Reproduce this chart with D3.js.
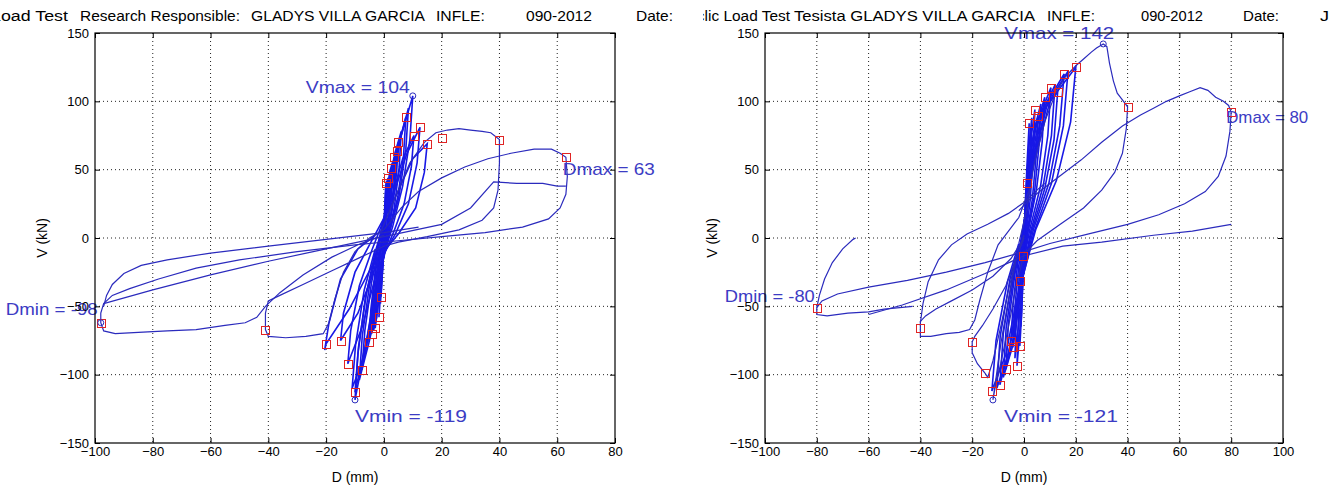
<!DOCTYPE html>
<html>
<head>
<meta charset="utf-8">
<script src="https://cdn.jsdelivr.net/npm/d3@7"></script>
<style>
  body { margin: 0; background: #fff; }
  text { font-family: "Liberation Sans", Arial, sans-serif; }
</style>
</head>
<body>
<svg id="chart" width="1339" height="489"></svg>
<script>
// ---- data (D in mm, V in kN) ----
const yTicks = [-150, -100, -50, 0, 50, 100, 150];
const xTicksLeft = [-100, -80, -60, -40, -20, 0, 20, 40, 60, 80];
const xTicksRight = [-100, -80, -60, -40, -20, 0, 20, 40, 60, 80, 100];

const headerLeft = ["Load Test", "Research Responsible:", "GLADYS VILLA GARCIA", "INFLE:", "090-2012", "Date:"];
const headerRight = ["Cyclic Load Test", "Tesista GLADYS VILLA GARCIA", "INFLE:", "090-2012", "Date:", "J"];

// small cycles, left specimen
const leftCore = [
  [[0,0],[0.2,18],[0.5,33],[0.7,40],[0.6,28],[0.3,10],[0,-5],[-0.5,-25],[-1,-43],[-0.8,-28],[-0.4,-10],[0,2]],
  [[0,1],[0.4,25],[0.9,42],[1.2,30],[0.6,8],[-0.3,-18],[-1.2,-48],[-1,-30],[-0.4,-6],[0,0]],
  [[0,2],[0.5,24],[1,37],[1.4,44],[1.2,30],[0.7,12],[0.1,-4],[-0.7,-28],[-1.3,-45],[-1.7,-58],[-1.4,-38],[-0.8,-15],[-0.2,0]],
  [[-0.2,0],[0.6,22],[1.5,40],[2.4,51],[2.1,35],[1.4,15],[0.4,-3],[-0.8,-25],[-2,-48],[-3,-66],[-2.6,-45],[-1.6,-20],[-0.5,-2]],
  [[0,0],[1,30],[2,48],[2.9,55],[2.5,35],[1.5,12],[0.2,-6],[-1.2,-35],[-2.5,-58],[-3.6,-68],[-3,-45],[-1.8,-18],[-0.5,0]],
  [[-0.5,-2],[0.8,20],[2.2,42],[3.5,59],[3,40],[2,18],[0.6,-2],[-1,-25],[-2.6,-50],[-4.2,-70],[-3.6,-48],[-2.3,-22],[-0.8,-3]],
  [[-0.5,0],[1.2,32],[2.8,52],[4,60],[3.5,40],[2.3,15],[0.5,-4],[-1.5,-35],[-3.2,-58],[-4.8,-73],[-4,-48],[-2.6,-20],[-0.8,-2]],
  [[-0.8,-3],[1,22],[2.8,45],[4.5,64],[3.9,42],[2.6,18],[0.8,0],[-1.2,-24],[-3.2,-52],[-5.2,-76],[-4.5,-52],[-3,-24],[-1,-3]],
  [[-1,-3],[1.2,25],[3.2,50],[5,70],[4.4,48],[3,22],[1,2],[-1.5,-25],[-4.5,-60],[-7.6,-96.5],[-6.6,-68],[-4.3,-33],[-1.6,-5]],
  [[-1,-2],[1.6,35],[3.8,62],[6,78],[5.3,52],[3.6,22],[1,-2],[-2,-35],[-5,-75],[-8.5,-104],[-7.5,-72],[-5,-35],[-2,-6]],
  [[-1.6,-5],[1.5,28],[4.5,62],[7.6,88.5],[6.8,60],[4.8,30],[2,5],[-1.8,-25],[-5.5,-70],[-10,-113],[-8.8,-80],[-6,-40],[-2.4,-8]],
  [[-2,-6],[2.4,40],[5.5,72],[8.5,95],[7.6,65],[5.2,30],[1.8,3],[-2.5,-38],[-6.5,-85],[-11,-110],[-9.8,-78],[-6.8,-38],[-3,-8]],
  [[-2.4,-8],[2,30],[6,75],[10,104],[9,72],[6.5,38],[3,8],[-2,-25],[-6,-75],[-10,-118.5],[-9,-85],[-6.5,-45],[-3,-10]],
  [[-3,-10],[2.5,28],[6.5,58],[10.4,75],[9.5,52],[7,25],[3.5,5],[-2.5,-25],[-7.5,-65],[-12.5,-92],[-11.5,-68],[-8.5,-35],[-4,-8]],
  [[-4,-8],[3,30],[8,62],[12.5,81],[11.5,55],[8.5,25],[4,3],[-3,-22],[-9,-55],[-15,-75],[-14,-55],[-10,-25],[-5,-5]],
  [[-5,-5],[4,30],[10,58],[15,69],[14,48],[11,22],[5,3],[-4,-20],[-12,-52],[-20,-77.5],[-20.5,-82],[-19,-62],[-15,-30],[-9,-8],[-3,2]]
];

// large cycles, left specimen
const leftLoop40 = [[-3,2],[-1,5],[4,30],[9,55],[14,70],[18,77],[22,79],[26,80],[30,79],[34,78],[37,77],[40,72],[40,55],[39.5,35],[38,22],[34,13],[26,6],[15,1],[5,-3],[0,-6],[-8,-14],[-18,-24],[-28,-34],[-36,-42],[-40,-46],[-41,-55],[-41,-67],[-40,-72],[-34,-73],[-27,-72],[-21,-70],[-19,-62],[-17,-45],[-14,-25],[-10,-10],[-5,0],[0,6]];
const leftLoop63 = [[0,6],[6,22],[12,34],[20,44],[28,52],[36,58],[44,62],[52,65],[58,65],[61,62],[63,59],[63.5,45],[63,32],[61,22],[57,14],[48,8],[35,4],[20,1],[5,-2],[-10,-5],[-30,-10],[-50,-16],[-65,-22],[-78,-30],[-88,-37],[-94,-42],[-97,-48],[-98,-55],[-98,-62],[-97,-68],[-93,-70],[-85,-69],[-75,-68],[-65,-67],[-55,-64],[-48,-62],[-44,-58],[-41,-50],[-36,-40],[-28,-27],[-18,-14],[-8,-4],[0,2]];
const leftReload = [[-97,-50],[-96,-42],[-94,-34],[-90,-26],[-84,-20],[-75,-16],[-60,-11],[-40,-6],[-20,-1],[0,4],[12,8]];
const leftDiagonal = [[-97,-48],[-80,-38],[-60,-27],[-40,-17],[-20,-8],[0,1],[20,10],[30,22],[38,41],[46,40],[55,40],[60,38],[63,38]];

const leftSquares = [[0.7,40],[1.4,44],[2.4,51],[3.5,59],[4.5,64],[5,70],[7.6,88.5],[10.4,75],[12.5,81],[15,69],[20,73],[40,72],[63,59],
  [-1,-43],[-1.7,-58],[-3,-66],[-4.2,-70],[-5.2,-76],[-7.6,-96.5],[-10,-113],[-12.5,-92],[-15,-75],[-20,-77.5],[-41,-67],[-98,-62]];
const leftCircles = [[10,104],[-10,-118.5],[-98,-62]];

// small cycles, right specimen
const rightCore = [
  [[0,0],[0.4,20],[0.8,32],[1.2,40],[1,25],[0.6,8],[0.2,-3],[-0.1,-8],[-0.4,-13],[-0.3,-6],[0,0]],
  [[0,0],[0.6,30],[1.2,55],[2,84],[1.7,55],[1.1,25],[0.4,3],[-0.5,-15],[-1.5,-31.5],[-1.2,-18],[-0.5,-4],[0,0]],
  [[0,0],[0.8,35],[1.8,65],[3,88],[2.6,58],[1.7,25],[0.6,2],[-0.4,-25],[-0.8,-50],[-1.2,-65],[-1,-40],[-0.4,-12]],
  [[0,0],[1,35],[2.5,70],[4.2,94],[3.6,62],[2.4,28],[0.8,2],[-0.4,-30],[-1,-58],[-1.6,-79],[-1.3,-50],[-0.6,-18],[0,-2]],
  [[0,-2],[1.2,38],[3,70],[5.4,89],[4.7,60],[3.2,28],[1,2],[-0.6,-35],[-1.6,-68],[-2.7,-93.5],[-2.2,-60],[-1.2,-25],[-0.2,-3]],
  [[0,-1],[1.5,40],[3.8,78],[6.5,98],[5.7,66],[3.9,30],[1.3,3],[-0.8,-32],[-2,-62],[-3.5,-88],[-2.9,-56],[-1.6,-22],[-0.3,-2]],
  [[-0.2,-3],[1.6,40],[4.5,80],[8,103],[7,70],[4.8,35],[1.6,5],[-1,-30],[-2.6,-58],[-4.3,-80],[-3.6,-52],[-2,-20],[-0.5,-2]],
  [[-0.5,-2],[2,45],[5.8,88],[10.4,110],[9.2,75],[6.4,38],[2.2,6],[-1.2,-28],[-3,-55],[-5,-75],[-4.2,-48],[-2.4,-18],[-0.6,0]],
  [[-0.3,-2],[2.6,48],[7,92],[12,112],[10.6,75],[7.4,38],[2.6,5],[-1.5,-38],[-4.2,-78],[-8,-102],[-6.9,-66],[-4,-28],[-1,-3]],
  [[-0.6,0],[2.4,48],[7,92],[13,107],[11.6,72],[8,36],[3,5],[-1.5,-35],[-4,-72],[-7,-96],[-6,-62],[-3.4,-25],[-1,-2]],
  [[-1,-2],[3,50],[8.5,98],[15.5,120],[13.8,82],[9.6,40],[3.6,6],[-2,-40],[-5.5,-80],[-9.3,-107.5],[-8,-70],[-4.6,-30],[-1.4,-4]],
  [[-1,-3],[3.2,52],[9,98],[17,122],[15.2,82],[10.6,40],[4,5],[-2.2,-42],[-6,-85],[-10.5,-110],[-9.2,-72],[-5.4,-30],[-1.6,-4]],
  [[-1.4,-4],[3.5,52],[10,100],[20,125],[18,85],[12.5,42],[4.5,6],[-2.5,-42],[-7,-85],[-12.4,-112],[-10.8,-75],[-6.4,-32],[-2,-4]]
];

// large cycles, right specimen
const rightLoop30 = [[-2,-4],[1,20],[4,55],[8,85],[12,105],[16,118],[20,126],[23,131],[26,136],[28,139],[30.6,142],[32,140],[33,128],[34.5,115],[36,106],[38,101],[40,96],[39.5,80],[38,62],[35,48],[30,35],[23,22],[14,10],[5,-2],[0,-12],[-3,-35],[-6,-65],[-9,-92],[-11,-108],[-12,-118.5],[-11,-105],[-9,-78],[-6,-45],[-3,-15],[0,2]];
const rightLoopNeg = [[0,2],[-3,-15],[-7,-35],[-12,-52],[-16,-64],[-19,-72],[-20,-76],[-20,-84],[-18,-92],[-15,-99],[-14,-102],[-12,-90],[-9,-65],[-6,-38],[-3,-15],[0,0]];
const rightLoop40 = [[0,0],[-5,-15],[-12,-28],[-20,-38],[-28,-46],[-34,-52],[-38,-57],[-40,-61],[-40,-66],[-40,-72],[-36,-72],[-30,-70],[-25,-69],[-21,-67],[-19,-60],[-17,-45],[-14,-25],[-10,-5],[-6,5],[-2,15],[0,25],[3,40]];
const rightUpperLeft = [[-40,-62],[-39,-48],[-37,-32],[-33,-16],[-28,-5],[-22,3],[-14,10],[-6,18],[0,26],[5,35],[8,40]];
const rightLoopBig = [[-2,20],[2,28],[8,37],[15,47],[22,57],[30,70],[38,82],[45,90],[50,95],[55,100],[60,104],[64,107],[68,110],[71,108],[74,103],[77,100],[79,97],[80,92],[79.5,78],[78,60],[75,45],[70,34],[62,25],[52,17],[40,10],[25,3],[10,-4],[0,-10],[-15,-18],[-30,-25],[-45,-31],[-60,-36],[-72,-41],[-78,-46],[-80,-51],[-80,-56],[-76,-57],[-68,-55],[-60,-54],[-54,-52],[-48,-51],[-43,-50]];
const rightEnd = [[-80,-51],[-79,-42],[-77,-30],[-74,-18],[-70,-8],[-66,-1],[-65,0]];
const rightDiagonal = [[-60,-56],[-47,-49],[-30,-38],[-15,-26],[0,-13],[15,-6],[30,-3],[50,2],[65,5],[80,10]];

const rightSquares = [[1.2,40],[2,84],[4.2,94],[5.4,89],[8,103],[10.4,110],[13,107],[15.5,120],[20,125],[40,96],[80,92],
  [-0.4,-13],[-1.5,-31.5],[-1.6,-79],[-2.7,-93.5],[-4.3,-80],[-5,-75],[-7,-96],[-9.3,-107.5],[-12.4,-112],[-15,-99],[-20,-76],[-40,-66],[-80,-51]];
const rightCircles = [[30.6,142],[-12,-118.5]];

// ---- drawing ----
const svg = d3.select("#chart");
const lineBlue = "#2b2bbd";
const labelBlue = "#3c3cc4";

function drawPanel(p) {
  const x = d3.scaleLinear().domain(p.xDomain).range(p.xRange);
  const y = d3.scaleLinear().domain([-150, 150]).range([443, 33]);
  const g = svg.append("g");
  const [x0, x1] = p.xRange;

  // dotted grid
  g.selectAll(".gx").data(p.xTicks.slice(1, -1)).enter().append("line")
    .attr("x1", d => x(d)).attr("x2", d => x(d)).attr("y1", y(150)).attr("y2", y(-150))
    .attr("stroke", "#222").attr("stroke-dasharray", "1,3");
  g.selectAll(".gy").data(yTicks.slice(1, -1)).enter().append("line")
    .attr("y1", d => y(d)).attr("y2", d => y(d)).attr("x1", x0).attr("x2", x1)
    .attr("stroke", "#222").attr("stroke-dasharray", "1,3");

  // curves
  const line = d3.line().x(d => x(d[0])).y(d => y(d[1]));
  g.selectAll(".core").data(p.core).enter().append("path")
    .attr("d", line).attr("fill", "none").attr("stroke", "#1818e6").attr("stroke-width", 1.6);
  g.selectAll(".big").data(p.big).enter().append("path")
    .attr("d", line).attr("fill", "none").attr("stroke", lineBlue).attr("stroke-width", 1.2);

  // markers (snapped to the pixel grid so the red stays crisp)
  g.selectAll(".sq").data(p.squares).enter().append("rect")
    .attr("x", d => Math.round(x(d[0])) - 3.5).attr("y", d => Math.round(y(d[1])) - 3.5)
    .attr("width", 8).attr("height", 8)
    .attr("fill", "none").attr("stroke", "#e02424").attr("stroke-width", 1);
  g.selectAll(".ci").data(p.circles).enter().append("circle")
    .attr("cx", d => x(d[0])).attr("cy", d => y(d[1])).attr("r", 3)
    .attr("fill", "none").attr("stroke", lineBlue).attr("stroke-width", 1);

  // annotations
  p.notes.forEach(n => {
    g.append("text").attr("x", x(n.at[0]) + n.dx).attr("y", y(n.at[1]) + n.dy)
      .attr("font-size", 17).attr("fill", labelBlue)
      .attr("textLength", n.w).attr("lengthAdjust", "spacingAndGlyphs")
      .text(n.text);
  });

  // axes, ticks pointing inward
  const axB = g.append("g").attr("transform", `translate(0,${y(-150)})`)
    .call(d3.axisBottom(x).tickValues(p.xTicks).tickSizeInner(-5).tickSizeOuter(0).tickPadding(4));
  const axT = g.append("g").attr("transform", `translate(0,${y(150)})`)
    .call(d3.axisTop(x).tickValues(p.xTicks).tickSizeInner(-5).tickSizeOuter(0).tickFormat(""));
  const axL = g.append("g").attr("transform", `translate(${x0},0)`)
    .call(d3.axisLeft(y).tickValues(yTicks).tickSizeInner(-5).tickSizeOuter(0).tickPadding(6));
  const axR = g.append("g").attr("transform", `translate(${x1},0)`)
    .call(d3.axisRight(y).tickValues(yTicks).tickSizeInner(-5).tickSizeOuter(0).tickFormat(""));
  [axB, axT, axL, axR].forEach(a => {
    a.select(".domain").remove();
    a.selectAll("line").attr("stroke", "#000");
    a.selectAll("text").attr("font-size", 13).attr("fill", "#000")
      .attr("font-family", "'Liberation Sans', Arial, sans-serif");
  });
  g.append("rect").attr("x", x0).attr("y", y(150)).attr("width", x1 - x0).attr("height", y(-150) - y(150))
    .attr("fill", "none").attr("stroke", "#000").attr("stroke-width", 1.2);

  // axis titles
  g.append("text").attr("x", (x0 + x1) / 2).attr("y", 482).attr("text-anchor", "middle")
    .attr("font-size", 14).text("D (mm)");
  g.append("text").attr("transform", `translate(${x0 - 48},${y(0)}) rotate(-90)`)
    .attr("text-anchor", "middle").attr("font-size", 14).text("V (kN)");
}

drawPanel({
  xDomain: [-100, 80], xRange: [95, 615], xTicks: xTicksLeft,
  core: leftCore, big: [leftLoop40, leftLoop63, leftReload, leftDiagonal],
  squares: leftSquares, circles: leftCircles,
  notes: [
    { text: "Vmax = 104", at: [10, 104], dx: -107, dy: -3, w: 104 },
    { text: "Vmin = -119", at: [-10, -118.5], dx: 0, dy: 22, w: 112 },
    { text: "Dmax = 63", at: [63, 59], dx: -3, dy: 18, w: 92 },
    { text: "Dmin = -98", at: [-98, -62], dx: -95, dy: -8, w: 92 }
  ]
});

drawPanel({
  xDomain: [-100, 100], xRange: [765, 1283], xTicks: xTicksRight,
  core: rightCore, big: [rightLoop30, rightLoopNeg, rightLoop40, rightUpperLeft, rightLoopBig, rightEnd, rightDiagonal],
  squares: rightSquares, circles: rightCircles,
  notes: [
    { text: "Vmax = 142", at: [30.6, 142], dx: -99, dy: -5, w: 110 },
    { text: "Vmin = -121", at: [-12, -118.5], dx: 11, dy: 22, w: 114 },
    { text: "Dmax = 80", at: [80, 92], dx: -5, dy: 11, w: 82 },
    { text: "Dmin = -80", at: [-80, -51], dx: -92, dy: -6, w: 90 }
  ]
});

// header strips above each plot (each image is cropped at its left edge)
const headerLeftX = [[-9, 77], [80, 160], [251, 174], [436, 49], [526, 66], [636, 37]];
const headerRightX = [[678, 112], [794, 241], [1047, 48], [1141, 62], [1243, 36], [1320, 9]];
svg.append("clipPath").attr("id", "clipR").append("rect").attr("x", 703).attr("y", 0).attr("width", 636).attr("height", 30);
const hl = svg.append("g");
headerLeft.forEach((t, i) => {
  hl.append("text").attr("x", headerLeftX[i][0]).attr("y", 21).attr("font-size", 14)
    .attr("textLength", headerLeftX[i][1]).attr("lengthAdjust", "spacingAndGlyphs").text(t);
});
const hr = svg.append("g").attr("clip-path", "url(#clipR)");
headerRight.forEach((t, i) => {
  hr.append("text").attr("x", headerRightX[i][0]).attr("y", 21).attr("font-size", 14)
    .attr("textLength", headerRightX[i][1]).attr("lengthAdjust", "spacingAndGlyphs").text(t);
});
</script>
</body>
</html>
